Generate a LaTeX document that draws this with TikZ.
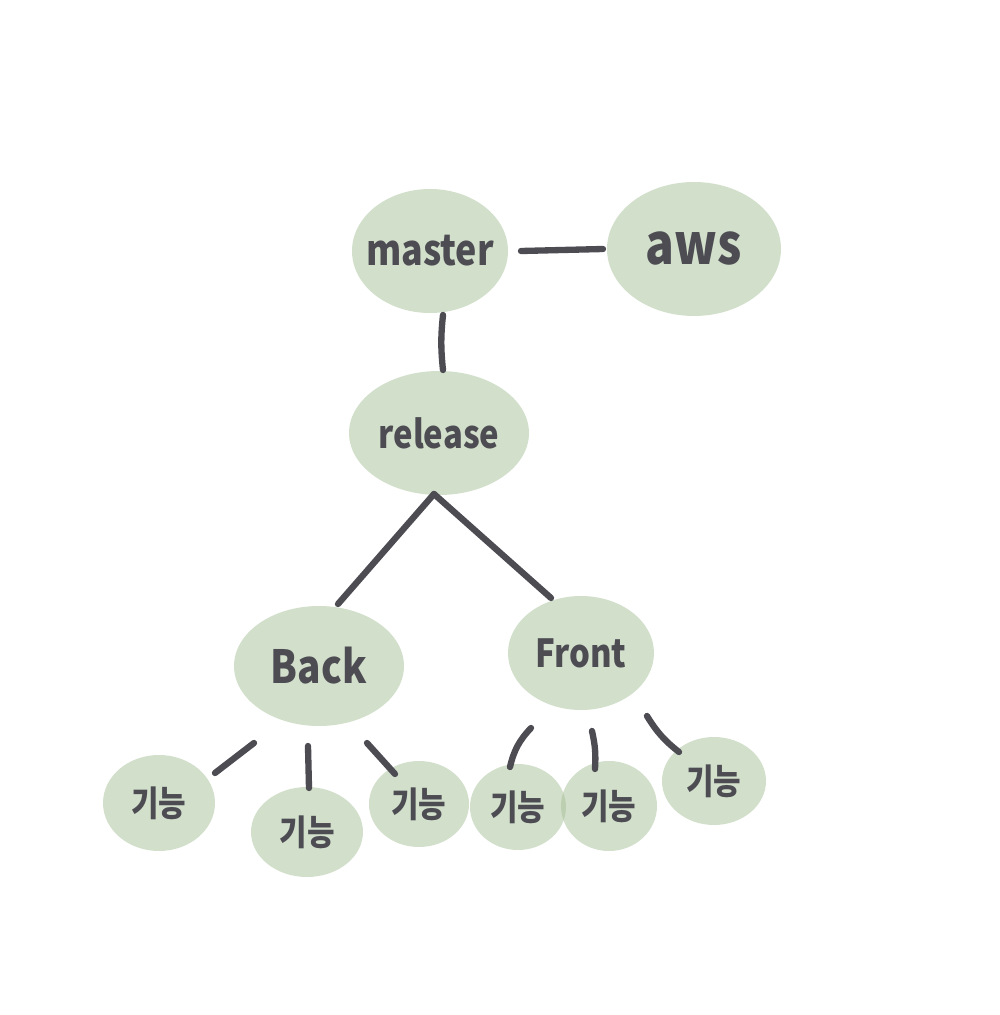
\documentclass[tikz,border=0pt]{standalone}
\usepackage{fontspec}
\setmainfont{Noto Sans CJK KR}[FakeStretch=0.85]
\usetikzlibrary{shapes.geometric,calc}
\definecolor{blob}{HTML}{A7C199}
\definecolor{ink}{HTML}{4D4C53}
\newcommand{\lbl}[1]{\makebox[0pt]{#1}}
\tikzset{
  blobnode/.style={ellipse, fill=blob, fill opacity=0.5, text opacity=1, inner sep=0pt, text=ink, font=\bfseries},
  link/.style={draw=ink, line width=1.8pt, line cap=round},
}
\begin{document}
\begin{tikzpicture}
\useasboundingbox[fill=white] (0,0) rectangle (10,10.15);
% main nodes
\node[blobnode, minimum width=1.56cm, minimum height=1.24cm, font=\bfseries\fontsize{12}{14}\selectfont] (master) at (4.30,7.64) {\lbl{master}};
\node[blobnode, minimum width=1.74cm, minimum height=1.34cm, font=\bfseries\fontsize{16}{18}\selectfont] (aws) at (6.94,7.66) {\lbl{aws}};
\node[blobnode, minimum width=1.80cm, minimum height=1.24cm, font=\bfseries\fontsize{11}{13}\selectfont] (release) at (4.39,5.82) {\lbl{release}};
\node[blobnode, minimum width=1.70cm, minimum height=1.20cm, font=\bfseries\fontsize{13}{15}\selectfont] (back) at (3.19,3.49) {\lbl{Back}};
\node[blobnode, minimum width=1.46cm, minimum height=1.14cm, font=\bfseries\fontsize{11}{13}\selectfont] (front) at (5.81,3.62) {\lbl{Front}};
% leaf nodes
\tikzset{leaf/.style={blobnode, font=\bfseries\fontsize{10}{12}\selectfont}}
\node[leaf, minimum width=1.12cm, minimum height=0.96cm] (f1) at (1.59,2.12) {\lbl{기능}};
\node[leaf, minimum width=1.12cm, minimum height=0.90cm] (f2) at (3.07,1.83) {\lbl{기능}};
\node[leaf, minimum width=1.00cm, minimum height=0.86cm] (f3) at (4.19,2.11) {\lbl{기능}};
\node[leaf, minimum width=0.96cm, minimum height=0.86cm] (f4) at (5.18,2.08) {\lbl{기능}};
\node[leaf, minimum width=0.96cm, minimum height=0.90cm] (f5) at (6.09,2.09) {\lbl{기능}};
\node[leaf, minimum width=1.04cm, minimum height=0.88cm] (f6) at (7.14,2.34) {\lbl{기능}};
% connectors
\draw[link] ($(master)+(0.91,0)$) -- ($(aws)+(-0.91,0)$);
\draw[link] ($(master)+(0.13,-0.64)$) to[bend right=6] ($(release)+(0.04,0.63)$);
\draw[link] ($(release)+(-0.05,-0.61)$) -- ($(back)+(0.19,0.62)$);
\draw[link] ($(release)+(-0.05,-0.61)$) -- ($(front)+(-0.30,0.55)$);
\draw[link] ($(back)+(-0.65,-0.77)$) -- ($(f1)+(0.56,0.30)$);
\draw[link] ($(back)+(-0.11,-0.80)$) -- ($(f2)+(0.02,0.44)$);
\draw[link] ($(back)+(0.48,-0.77)$) -- ($(f3)+(-0.24,0.30)$);
\draw[link] ($(front)+(-0.50,-0.75)$) to[bend right=15] ($(f4)+(-0.08,0.40)$);
\draw[link] ($(front)+(0.11,-0.78)$) to[bend left=8] ($(f5)+(-0.14,0.37)$);
\draw[link] ($(front)+(0.66,-0.63)$) to[bend right=10] ($(f6)+(-0.35,0.29)$);
\end{tikzpicture}
\end{document}
